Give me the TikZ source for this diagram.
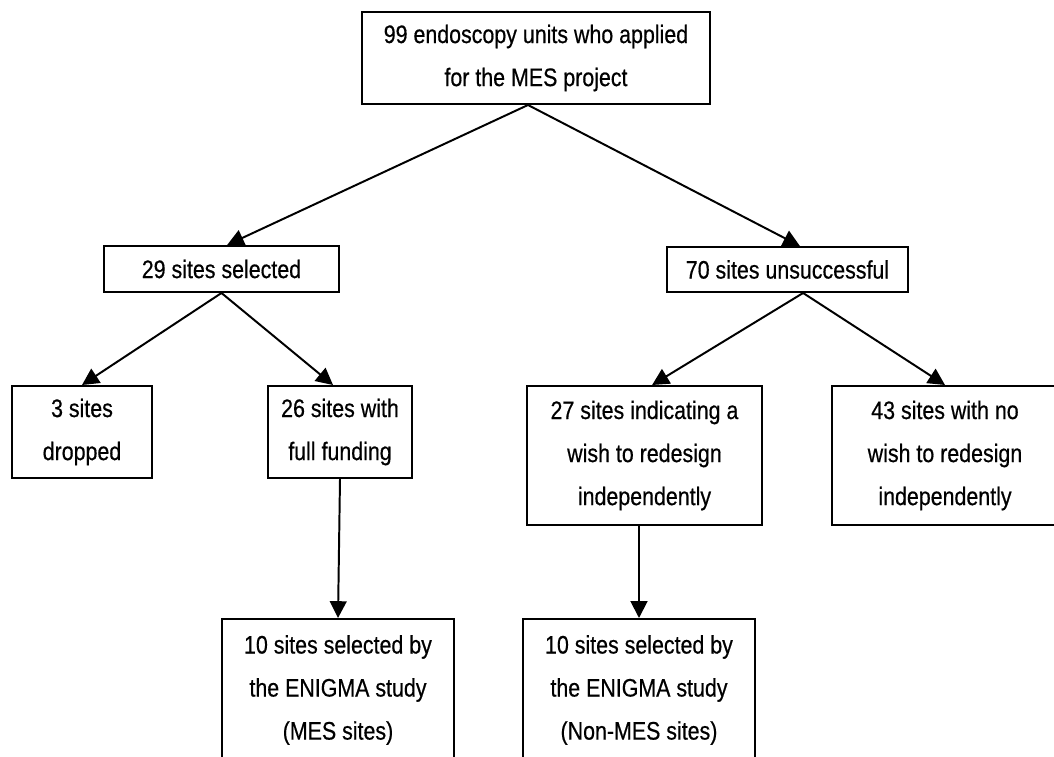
\documentclass[tikz,border=0pt]{standalone}
\usepackage{fontspec}
\setmainfont{Liberation Sans}[FakeStretch=0.845,FakeBold=0.5]
\usetikzlibrary{arrows.meta}

\begin{document}
\begin{tikzpicture}[x=0.025cm,y=-0.025cm]
\tikzstyle{box}=[draw=black,line width=1.4pt,inner sep=0pt,align=center,font=\fontsize{18}{30.6}\selectfont]
\tikzstyle{link}=[draw=black,line width=1.4pt,-{Triangle[length=0.42cm,width=0.42cm]}]
\useasboundingbox (0,0) rectangle (1054,757);
\clip (0,0) rectangle (1054,757);
\node [box,minimum width=8.7cm,minimum height=2.3cm] (units) at (536,58) {99 endoscopy units who applied\\for the MES project};
\node [box,minimum width=5.875cm,minimum height=1.15cm] (sel) at (221.5,269) {29 sites selected};
\node [box,minimum width=6.025cm,minimum height=1.125cm] (unsucc) at (787.5,269.5) {70 sites unsuccessful};
\node [box,minimum width=3.5cm,minimum height=2.3cm] (drop) at (82,432) {3 sites\\dropped};
\node [box,minimum width=3.6cm,minimum height=2.3cm] (fund) at (340,432) {26 sites with\\full funding};
\node [box,minimum width=5.875cm,minimum height=3.475cm] (wish) at (644.5,455.5) {27 sites indicating a\\wish to redesign\\independently};
\node [box,minimum width=5.65cm,minimum height=3.475cm] (nowish) at (945,455.5) {43 sites with no\\wish to redesign\\independently};
\node [box,minimum width=5.8cm,minimum height=3.55cm] (mes) at (338,690) {10 sites selected by\\the ENIGMA study\\(MES sites)};
\node [box,minimum width=5.8cm,minimum height=3.55cm] (nonmes) at (639,690) {10 sites selected by\\the ENIGMA study\\(Non-MES sites)};
\draw [link] ([xshift=-0.2cm]units.south) -- ([xshift=0.14cm]sel.north);
\draw [link] ([xshift=-0.2cm]units.south) -- ([xshift=0.31cm]unsucc.north);
\draw [link] (sel.south) -- (drop.north);
\draw [link] (sel.south) -- ([xshift=-0.175cm]fund.north);
\draw [link] ([xshift=0.39cm]unsucc.south) -- ([xshift=0.19cm]wish.north);
\draw [link] ([xshift=0.39cm]unsucc.south) -- (nowish.north);
\draw [link] (fund.south) -- (mes.north);
\draw [link] (wish.south -| nonmes.north) -- (nonmes.north);
\end{tikzpicture}
\end{document}
